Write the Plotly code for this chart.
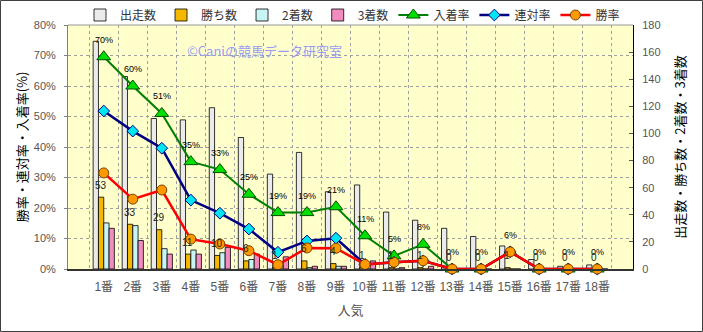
import plotly.graph_objects as go

# ---- data ----
categories = ["1番", "2番", "3番", "4番", "5番", "6番", "7番", "8番", "9番",
              "10番", "11番", "12番", "13番", "14番", "15番", "16番", "17番", "18番"]
starts = [168, 142, 111, 110, 119, 97, 70, 86, 57, 62, 42, 36, 30, 24, 17, 7, 2, 3]
wins = [53, 33, 29, 11, 10, 6, 1, 6, 4, 1, 1, 1, 0, 0, 1, 0, 0, 0]
seconds = [34, 32, 15, 14, 12, 7, 3, 1, 2, 0, 0, 0, 0, 0, 0, 0, 0, 0]
thirds = [30, 21, 11, 11, 16, 11, 9, 2, 2, 6, 1, 2, 0, 0, 0, 0, 0, 0]
win_rate = [31.5, 22.9, 25.9, 9.8, 8.2, 6.0, 1.4, 6.9, 6.8, 1.5, 2.2, 2.7, 0, 0, 5.6, 0, 0, 0]
quinella_rate = [51.8, 45.2, 39.6, 22.6, 18.3, 13.1, 5.5, 9.2, 10.1, 1.5, 2.2, 2.7, 0, 0, 5.6, 0, 0, 0]
place_rate = [69.6, 60.0, 51.0, 35.2, 32.6, 24.5, 18.5, 18.5, 20.4, 10.9, 4.3, 8.1, 0, 0, 5.6, 0, 0, 0]
place_labels = ["70%", "60%", "51%", "35%", "33%", "25%", "19%", "19%", "21%", "11%",
                "5%", "8%", "0%", "0%", "6%", "0%", "0%", "0%"]

CJK = "Noto Sans CJK JP"
LAT = "Liberation Sans, Arial, Noto Sans CJK JP"

W, H = 703, 332
PW, PH = 565, 244
ML, MR, MT, MB = 68, 70, 25, 63

fig = go.Figure()

bar_line = dict(color="#000000", width=0.8)
fig.add_trace(go.Bar(x=categories, y=starts, name="出走数", yaxis="y",
                     marker=dict(color="#EBEBEB", line=bar_line)))
fig.add_trace(go.Bar(x=categories, y=wins, name="勝ち数", yaxis="y",
                     marker=dict(color="#F5B800", line=bar_line)))
fig.add_trace(go.Bar(x=categories, y=seconds, name="2着数", yaxis="y",
                     marker=dict(color="#C8F4F4", line=bar_line)))
fig.add_trace(go.Bar(x=categories, y=thirds, name="3着数", yaxis="y",
                     marker=dict(color="#F08CC0", line=bar_line)))

fig.add_trace(go.Scatter(x=categories, y=place_rate, name="入着率", yaxis="y2",
                         mode="lines+markers", cliponaxis=False,
                         line=dict(color="#008000", width=2),
                         marker=dict(symbol="triangle-up", size=12, color="#00E000",
                                     line=dict(color="#005000", width=1))))
fig.add_trace(go.Scatter(x=categories, y=quinella_rate, name="連対率", yaxis="y2",
                         mode="lines+markers", cliponaxis=False,
                         line=dict(color="#000080", width=2.5),
                         marker=dict(symbol="diamond", size=9, color="#00E5F0",
                                     line=dict(color="#000080", width=1))))
fig.add_trace(go.Scatter(x=categories, y=win_rate, name="勝率", yaxis="y2",
                         mode="lines+markers", cliponaxis=False,
                         line=dict(color="#FF0000", width=2.5),
                         marker=dict(symbol="circle", size=10, color="#FF9900",
                                     line=dict(color="#7A4000", width=1))))

annotations = []
for c, v, t in zip(categories, place_rate, place_labels):
    annotations.append(dict(x=c, y=v, xref="x", yref="y2", text=t, showarrow=False,
                            yshift=17, font=dict(family=LAT, size=9, color="#000000")))
for c, v in zip(categories, wins):
    annotations.append(dict(x=c, y=v, xref="x", yref="y", text=str(v), showarrow=False,
                            yshift=12, xshift=-3,
                            font=dict(family=LAT, size=10, color="#222222")))
annotations.append(dict(x=(264 - ML) / PW, y=1 - (39 - MT) / PH, xref="paper", yref="paper",
                        text="©Caniの競馬データ研究室", showarrow=False,
                        font=dict(family=CJK, size=13, color="#9A9AF5")))

shapes = [
    dict(type="rect", xref="paper", yref="paper",
         x0=(-ML + 0.5) / PW, x1=1 + (MR - 0.5) / PW,
         y0=(-MB + 0.5) / PH, y1=1 + (MT - 0.5) / PH,
         line=dict(color="#404040", width=1), fillcolor="rgba(0,0,0,0)", layer="above"),
    dict(type="line", xref="paper", yref="paper", x0=0, x1=1, y0=1, y1=1,
         line=dict(color="#999999", width=1)),
]

fig.update_layout(
    width=W, height=H,
    margin=dict(l=ML, r=MR, t=MT, b=MB, autoexpand=False),
    paper_bgcolor="#FFFFFF",
    plot_bgcolor="#FFFFCC",
    barmode="group", bargap=0.27, bargroupgap=0,
    font=dict(family=LAT, size=12, color="#555555"),
    annotations=annotations,
    shapes=shapes,
    showlegend=True,
    legend=dict(orientation="h", xref="container", yref="container",
                x=80 / W, xanchor="left", y=1 - 15 / H, yanchor="middle",
                bgcolor="rgba(0,0,0,0)", font=dict(family=CJK, size=12, color="#333333"),
                traceorder="normal", itemwidth=30, tracegroupgap=0),
    xaxis=dict(type="category", tickson="boundaries", showgrid=True,
               gridcolor="#A0A0A0", griddash="dot", gridwidth=1,
               showline=True, linecolor="#333333", linewidth=2,
               ticks="", tickangle=0, ticklabelstandoff=6,
               tickfont=dict(family=LAT, size=12, color="#555555"),
               title=dict(text="人気", font=dict(family=CJK, size=13, color="#555555"), standoff=12)),
    yaxis=dict(side="right", range=[0, 180], dtick=20, showgrid=False, zeroline=False,
               showline=True, linecolor="#000000", linewidth=1,
               ticks="inside", ticklen=4, tickcolor="#555555",
               tickfont=dict(family=LAT, size=11, color="#555555"), ticklabelstandoff=6,
               title=dict(text="出走数・勝ち数・2着数・3着数",
                          font=dict(family=CJK, size=13, color="#000000"), standoff=16)),
    yaxis2=dict(side="left", overlaying="y", range=[0, 80], dtick=10, ticksuffix="%",
                showgrid=True, gridcolor="#A0A0A0", griddash="dot", gridwidth=1,
                zeroline=False, showline=True, linecolor="#808080", linewidth=1,
                ticks="outside", ticklen=3, tickcolor="#808080",
                tickfont=dict(family=LAT, size=11, color="#555555"), ticklabelstandoff=6,
                title=dict(text="勝率・連対率・入着率(%)",
                           font=dict(family=CJK, size=13, color="#000000"), standoff=3)),
)

fig.write_html("out.html")
